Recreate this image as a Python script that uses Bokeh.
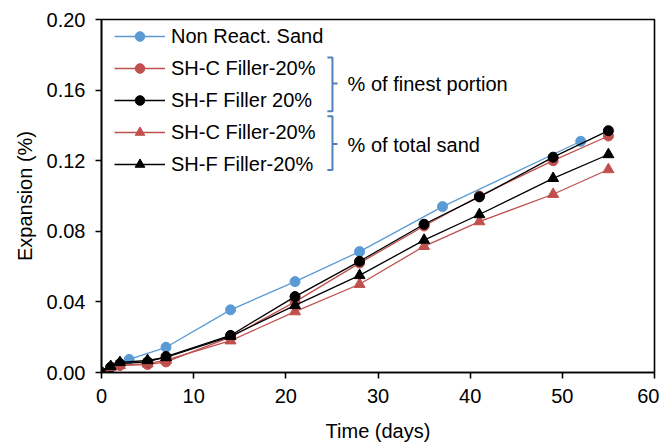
from bokeh.plotting import figure
from bokeh.models import Legend, LegendItem, FixedTicker, NumeralTickFormatter, Range1d
from bokeh.embed import file_html
from bokeh.resources import INLINE
from bokeh.core.properties import value

# ---- data ----
days_nr = [0, 3, 7, 14, 21, 28, 37, 52]
non_react = [0.0, 0.0074, 0.0143, 0.0355, 0.0515, 0.0685, 0.094, 0.131]

days = [0, 1, 2, 5, 7, 14, 21, 28, 35, 41, 49, 55]
shc_fine = [0.0, 0.003, 0.004, 0.0045, 0.006, 0.020, 0.040, 0.062, 0.083, 0.100, 0.120, 0.134]
shf_fine = [0.0, 0.003, 0.005, 0.006, 0.009, 0.021, 0.043, 0.063, 0.084, 0.0995, 0.122, 0.137]
shc_total = [0.0, 0.003, 0.004, 0.005, 0.007, 0.018, 0.0345, 0.050, 0.0715, 0.0855, 0.101, 0.115]
shf_total = [0.0, 0.0035, 0.0057, 0.0068, 0.0085, 0.0205, 0.038, 0.055, 0.075, 0.0895, 0.110, 0.1235]

labels = ["Non React. Sand", "SH-C Filler-20%", "SH-F Filler 20%", "SH-C Filler-20%", "SH-F Filler-20%"]
x_ticks = [0, 10, 20, 30, 40, 50, 60]
y_ticks = [0.0, 0.04, 0.08, 0.12, 0.16, 0.20]

group_labels = ["% of finest portion", "% of total sand"]
# bracket annotations (data units): x of bar, top, bottom, middle
br_x = 25.06
br_hook = 0.55
br_tick = 0.55
br_top = [0.1785, 0.1452]
br_bot = [0.1480, 0.1147]
br_mid = [0.1638, 0.1294]
grp_text_x = 26.7

BLUE = "#5B9BD5"
RED = "#C0504D"
BLACK = "#000000"
FONT = "Liberation Sans"
FS = "20px"

p = figure(width=659, height=444, output_backend="svg", toolbar_location=None,
           x_range=Range1d(0, 60), y_range=Range1d(0, 0.20),
           min_border_left=101, min_border_right=5, min_border_top=19, min_border_bottom=71)
p.xgrid.visible = False
p.ygrid.visible = False
p.outline_line_color = "black"
p.outline_line_width = 1.6
p.background_fill_color = "white"
p.border_fill_color = "white"

for ax in (p.xaxis[0], p.yaxis[0]):
    ax.axis_line_color = "black"
    ax.axis_line_width = 1.6
    ax.major_tick_line_color = "black"
    ax.major_tick_line_width = 1.6
    ax.major_tick_out = 6
    ax.major_tick_in = 0
    ax.minor_tick_line_color = None
    ax.major_label_text_font = FONT
    ax.major_label_text_font_size = FS
    ax.major_label_text_color = "black"
    ax.axis_label_text_font = FONT
    ax.axis_label_text_font_size = FS
    ax.axis_label_text_font_style = "normal"
    ax.axis_label_text_color = "black"
    ax.major_label_standoff = 10

p.xaxis.ticker = FixedTicker(ticks=x_ticks)
p.yaxis.ticker = FixedTicker(ticks=y_ticks)
p.yaxis.formatter = NumeralTickFormatter(format="0.00")
p.xaxis.axis_label = "Time (days)"
p.yaxis.axis_label = "Expansion (%)"
p.xaxis.axis_label_standoff = 14
p.yaxis.axis_label_standoff = 8

LW = 1.3
series = [
    (days_nr, non_react, BLUE, "circle", 10),
    (days, shc_fine, RED, "circle", 10),
    (days, shf_fine, BLACK, "circle", 10),
    (days, shc_total, RED, "triangle", 11),
    (days, shf_total, BLACK, "triangle", 11),
]
items = []
for (xs, ys, col, mk, sz), lab in zip(series, labels):
    r1 = p.line(xs, ys, line_color=col, line_width=LW)
    r2 = p.scatter(xs, ys, marker=mk, size=sz, fill_color=col, line_color=col)
    items.append(LegendItem(label=lab, renderers=[r1, r2]))

legend = Legend(items=items, location=(13, 196), orientation="vertical",
                label_text_font=FONT, label_text_font_size=FS, label_text_color="black",
                glyph_width=51, glyph_height=24, label_height=24, label_standoff=6,
                spacing=8, padding=0, margin=0,
                background_fill_alpha=0, border_line_alpha=0)
p.add_layout(legend, "center")

# brackets
BR = "#4F81BD"
for t, b, m in zip(br_top, br_bot, br_mid):
    p.line([br_x - br_hook, br_x, br_x, br_x - br_hook], [t, t, b, b], line_color=BR, line_width=2)
    p.line([br_x, br_x + br_tick], [m, m], line_color=BR, line_width=2)
p.text(x=[grp_text_x, grp_text_x], y=[br_mid[0] - 0.0005, br_mid[1] - 0.0005], text=group_labels,
       text_font=value(FONT), text_font_size=FS, text_color="black",
       text_baseline="middle", text_align="left")

open("out.html", "w").write(file_html(p, INLINE))
